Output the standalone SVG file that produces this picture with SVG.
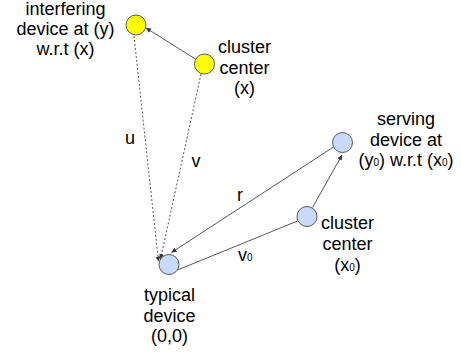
<svg xmlns="http://www.w3.org/2000/svg" width="461" height="356" viewBox="0 0 461 356">
<style>
text{font-family:"Liberation Sans",Arial,sans-serif;font-size:18px;fill:#000}
.c{text-anchor:middle}
.s{font-size:10px}
.ln{stroke:#595959;stroke-width:1;fill:none}
.d{stroke-dasharray:2,2}
.y{fill:#ffff00;stroke:#595959;stroke-width:1}
.b{fill:#c9daf8;stroke:#595959;stroke-width:1}
</style>
<defs>
<marker id="ah" markerUnits="userSpaceOnUse" markerWidth="6" markerHeight="6" refX="5" refY="3" orient="auto">
<path d="M0,0.5 L5,3 L0,5.5 Z" fill="#333"/>
</marker>
</defs>
<rect width="461" height="356" fill="#fff"/>
<g id="connectors">
<line class="ln" x1="195.5" y1="59" x2="146" y2="28" marker-end="url(#ah)"/>
<line class="ln d" x1="134" y1="36" x2="158.5" y2="261.5" marker-end="url(#ah)"/>
<line class="ln d" x1="201" y1="74" x2="160.5" y2="259" marker-end="url(#ah)"/>
<line class="ln" x1="333.5" y1="147" x2="171.5" y2="252.5" marker-end="url(#ah)"/>
<line class="ln" x1="177.5" y1="270" x2="297.5" y2="221"/>
<line class="ln" x1="312.5" y1="207.5" x2="342" y2="155" marker-end="url(#ah)"/>
<text x="130" y="144" class="c">u</text>
<text x="196" y="167" class="c">v</text>
<text x="240" y="201" class="c">r</text>
<text x="238" y="261">v<tspan class="s">0</tspan></text>
</g>
<g id="interfering">
<circle class="y" cx="136" cy="25" r="10"/>
<text class="c" x="65.5" y="15">interfering</text>
<text class="c" x="65.5" y="35">device at (y)</text>
<text class="c" x="65.5" y="55">w.r.t (x)</text>
</g>
<g id="cluster-x">
<circle class="y" cx="204.5" cy="64" r="10"/>
<text class="c" x="244.5" y="53">cluster</text>
<text class="c" x="244.5" y="73.5">center</text>
<text class="c" x="244.5" y="94">(x)</text>
</g>
<g id="serving">
<circle class="b" cx="342.5" cy="142.5" r="10"/>
<text class="c" x="406" y="125">serving</text>
<text class="c" x="406" y="145.5">device at</text>
<text class="c" x="406" y="166">(y<tspan class="s">0</tspan>) w.r.t (x<tspan class="s">0</tspan>)</text>
</g>
<g id="cluster-x0">
<circle class="b" cx="307" cy="216.5" r="10"/>
<text class="c" x="347.5" y="228.5">cluster</text>
<text class="c" x="347.5" y="249.5">center</text>
<text class="c" x="347.5" y="270.5">(x<tspan class="s">0</tspan>)</text>
</g>
<g id="typical">
<circle class="b" cx="169" cy="264.5" r="10"/>
<text class="c" x="169.5" y="301">typical</text>
<text class="c" x="169.5" y="322">device</text>
<text class="c" x="169.5" y="342">(0,0)</text>
</g>
</svg>
